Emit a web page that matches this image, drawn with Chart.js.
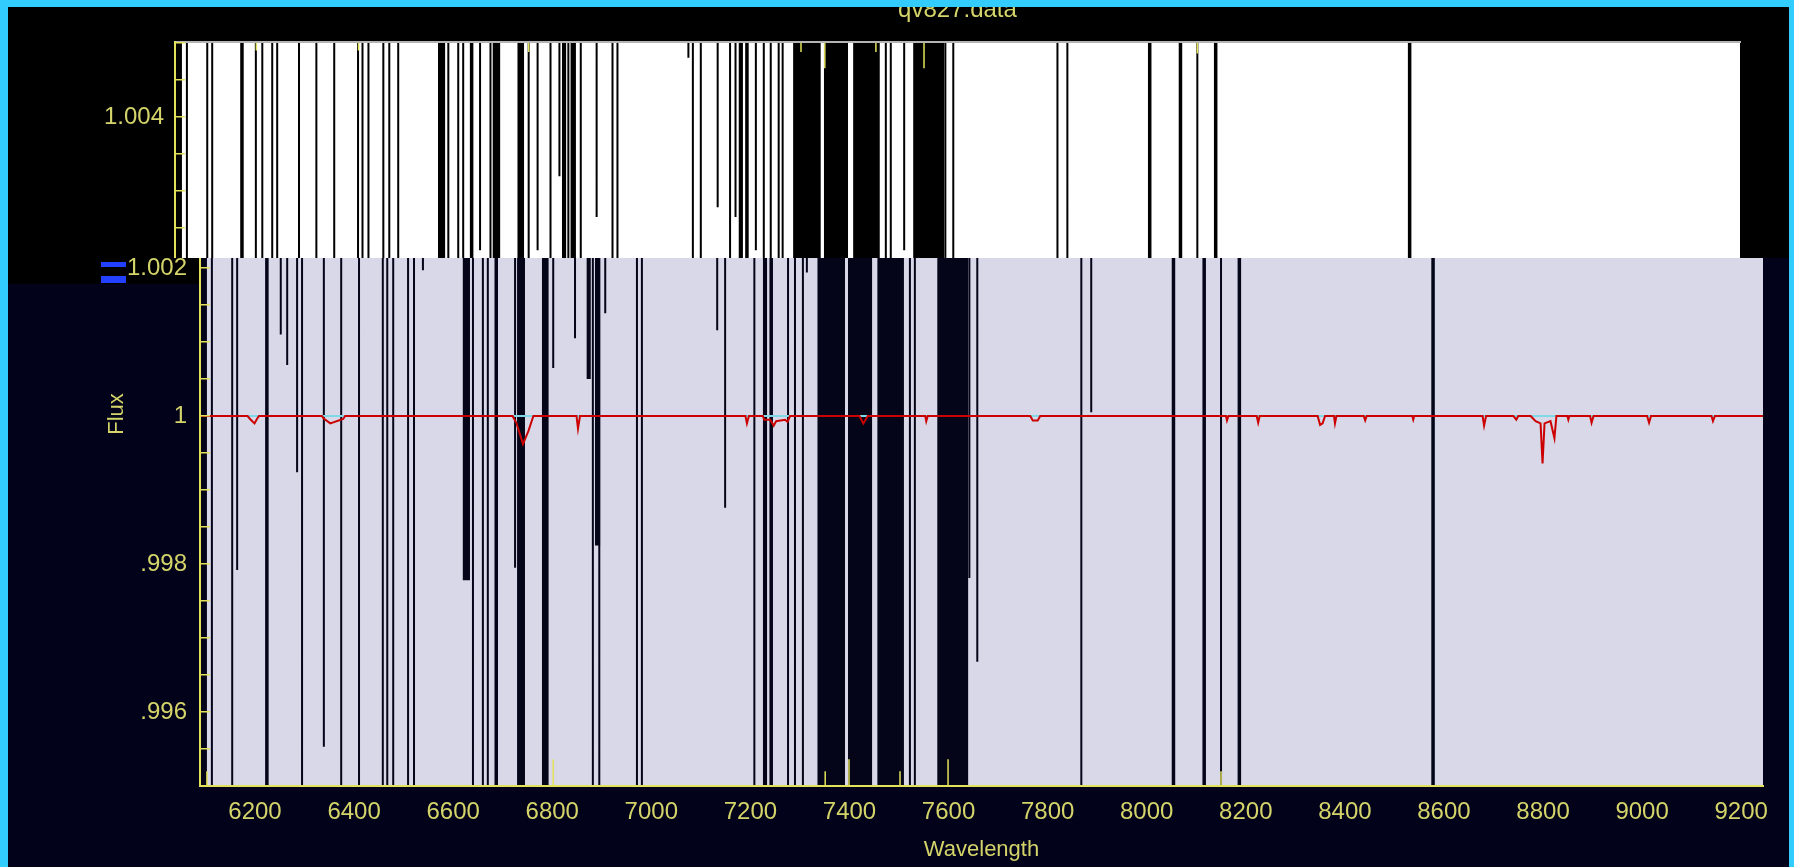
<!DOCTYPE html>
<html>
<head>
<meta charset="utf-8">
<script src="https://cdn.jsdelivr.net/npm/chart.js@4.4.0/dist/chart.umd.min.js"></script>
<style>
html, body { margin: 0; padding: 0; width: 1794px; height: 867px; overflow: hidden; background: #33ccff; }
#frame { position: absolute; left: 8px; top: 7px; width: 1781px; height: 860px; background: #02021a; overflow: hidden; }
#labelPatch { position: absolute; left: 0; top: 251px; width: 191px; height: 26px; background: #000; }
#lowerWrap { position: absolute; left: 0; top: 0; }
#upperBg { position: absolute; left: 0; top: 0; width: 1781px; height: 251px; background: #000; }
#upperWrap { position: absolute; left: 0; top: -12px; }
.glitch { position: absolute; left: 93px; width: 25px; height: 5px; background: #2440ff; }
</style>
</head>
<body>
<div id="frame">
  <div id="labelPatch"></div>
  <div id="lowerWrap"><canvas id="lowerChart" width="1781" height="860"></canvas></div>
  <div id="upperBg"></div>
  <div id="upperWrap"><canvas id="upperChart" width="1781" height="263"></canvas></div>
  <div class="glitch" style="top:255px"></div>
  <div class="glitch" style="top:269px;height:7px"></div>
</div>
<script>
const FULL = 0.99   // segment runs past the bottom of the plot
const TOP = 1.01    // segment starts above the plot

const waveMin = 6089
const waveMax = 9244

// single lines: [wavelength, lowest flux reached]
const thinLines = [
  [6113, FULL], [6154, FULL], [6164, 0.99792], [6252, 1.0011], [6265, 1.00069],
  [6285, 0.99924], [6295, FULL], [6339, 0.99553], [6374, FULL], [6410, FULL],
  [6458, FULL], [6467, FULL], [6479, FULL], [6509, FULL], [6521, FULL],
  [6539, 1.00197], [6640, FULL], [6660, FULL], [6670, FULL], [6704, 1.0022],
  [6725, 0.99795], [6802, 1.00065], [6820, 1.0022], [6846, 1.00105], [6864, 1.0032],
  [6882, FULL], [6895, FULL], [6907, 1.00139], [6939, 1.00265], [6971, FULL],
  [6981, FULL], [7124, 1.0048], [7133, 1.00116], [7149, 0.99876], [7183, 1.00278],
  [7208, FULL], [7219, 1.00265], [7260, 1.0022], [7276, FULL], [7290, FULL],
  [7306, FULL], [7314, 1.00194], [7522, FULL], [7532, FULL], [7559, 1.0022],
  [7642, 0.99781], [7658, 0.99668], [7868, FULL], [7888, 1.00005], [8150, FULL]
]
const thickLines = [
  [6224, FULL], [6687, FULL], [7242, FULL], [8054, FULL], [8116, FULL], [8187, FULL], [8578, FULL]
]
// dense bands: [from, to, lowest flux]
const bands = [
  [6085, 6103, FULL], [6619, 6634, 0.99778], [6729, 6745, FULL], [6779, 6793, FULL],
  [6869, 6878, 1.0005], [6886, 6897, 0.99825], [7225, 7234, FULL], [7335, 7391, FULL],
  [7397, 7446, FULL], [7456, 7510, FULL], [7577, 7640, FULL]
]

// red spectrum
const fluxWave = [
  6089, 6185, 6190, 6199, 6204, 6208, 6335, 6340, 6352, 6378, 6382,
  6720, 6728, 6741, 6752, 6762, 6849, 6852, 6856, 7190, 7193, 7197,
  7225, 7228, 7240, 7247, 7252, 7270, 7275, 7280, 7420, 7428, 7437,
  7553, 7555, 7558, 7765, 7770, 7780, 7785, 8160, 8162, 8165, 8222, 8225, 8228,
  8345, 8350, 8355, 8360, 8378, 8380, 8383, 8438, 8441, 8444, 8536, 8538, 8540,
  8678, 8681, 8685, 8740, 8746, 8750, 8775, 8785, 8795, 8799, 8803, 8815, 8823, 8827,
  8849, 8851, 8853, 8895, 8898, 8902, 9010, 9014, 9018, 9140, 9143, 9147, 9244
]
const fluxValue = [
  1, 1, 0.99996, 0.9999, 0.99996, 1, 1, 0.99996, 0.9999, 0.99996, 1,
  1, 0.9999, 0.99962, 0.9998, 1, 1, 0.99983, 1, 1, 0.9999, 1,
  1, 0.99995, 0.99995, 0.99987, 0.99993, 0.99995, 0.99992, 1, 1, 0.9999, 1,
  1, 0.99993, 1, 1, 0.99994, 0.99994, 1, 1, 0.99994, 1, 1, 0.99991, 1,
  1, 0.99988, 0.9999, 1, 1, 0.9999, 1, 1, 0.99994, 1, 1, 0.99995, 1,
  1, 0.99987, 1, 1, 0.99995, 1, 1, 0.99993, 0.9999, 0.99936, 0.9999, 0.99993, 0.9997, 1,
  1, 0.99995, 1, 1, 0.99991, 1, 1, 0.99991, 1, 1, 0.99993, 1, 1
]
const contWave = [6089, 9244]
const contValue = [1, 1]

// yellow marker ticks: [wavelength, end flux]
const upperMarks = [
  [6253, 1.0049], [6459, 1.0049], [6802, 1.00488], [7351, 1.00488],
  [7399, 1.00466], [7502, 1.00488], [7599, 1.00466], [8150, 1.00486]
]
const lowerMarks = [
  [6103, 0.9952], [6802, 0.99536], [7351, 0.9952], [7399, 0.99536],
  [7502, 0.9952], [7599, 0.99536], [8150, 0.9952]
]

const textYellow = '#d4d46a'
const axisYellow = '#e2e25a'
const font = { family: 'Liberation Sans', size: 22, weight: 'normal' }
const tickFont = { family: 'Liberation Sans', size: 24, weight: 'normal' }

const areaFill = {
  id: 'areaFill',
  beforeDraw(chart, args, opts) {
    const a = chart.chartArea
    const ctx = chart.ctx
    ctx.save()
    ctx.fillStyle = opts.color
    ctx.fillRect(a.left, a.top, a.right - a.left, a.bottom - a.top)
    ctx.restore()
  }
}

function segments(list, from) {
  const pts = []
  list.forEach(([w, end]) => {
    pts.push({ x: w, y: from }, { x: w, y: end }, { x: w, y: null })
  })
  return pts
}

function lineSet(data, color, width) {
  return { data: data, borderColor: color, borderWidth: width, pointRadius: 0, fill: false, tension: 0, clip: 0 }
}

function buildDatasets(ink, marks, markFrom, withSpectrum) {
  const sets = []
  if (withSpectrum) {
    sets.push(lineSet(fluxWave.map((w, i) => ({ x: w, y: fluxValue[i] })), '#cc0000', 2))
    sets.push(lineSet(contWave.map((w, i) => ({ x: w, y: contValue[i] })), '#7fd8e6', 2))
  }
  sets.push(lineSet(segments(marks, markFrom), axisYellow, 1.5))
  sets.push(lineSet(segments(thickLines, TOP), ink, 3.5))
  sets.push(lineSet(segments(thinLines, TOP), ink, 2))
  bands.forEach(([a, b, lo]) => {
    sets.push({
      data: [{ x: a, y: TOP }, { x: b, y: TOP }],
      borderWidth: 0, pointRadius: 0, backgroundColor: ink,
      fill: { value: lo }, clip: 0
    })
  })
  return sets
}

function fmtFlux(v) {
  const k = Math.round(v * 1000)
  if (Math.abs(v * 1000 - k) > 1e-6 || k % 2 !== 0) return ''
  const s = (k / 1000).toFixed(3)
  return s === '1.000' ? '1' : s.replace(/^0/, '')
}

function yAxis(min, max, width, pad) {
  return {
    type: 'linear', min: min, max: max,
    afterFit: (s) => { s.width = width; s.paddingTop = 0; s.paddingBottom = 0 },
    border: { display: true, color: axisYellow, width: 2, z: 1 },
    grid: { drawOnChartArea: false, drawTicks: true, tickLength: -10, color: axisYellow, lineWidth: 1.5, z: 1 },
    ticks: { stepSize: 0.0005, includeBounds: false, autoSkip: false, padding: pad, color: textYellow, font: tickFont, callback: fmtFlux, z: 1 }
  }
}

// lower, lavender panel
const lowerY = yAxis(0.995, 1.005054, 192, 23)
lowerY.title = { display: true, text: 'Flux', color: textYellow, font: font, padding: { top: 96, bottom: 0 } }

new Chart(document.getElementById('lowerChart'), {
  type: 'line',
  data: { datasets: buildDatasets('#05051a', lowerMarks, FULL, true) },
  plugins: [areaFill],
  options: {
    responsive: false, animation: false, events: [],
    layout: { padding: { top: 35, right: 26, left: 0, bottom: 0 }, autoPadding: false },
    plugins: { legend: { display: false }, tooltip: { enabled: false }, areaFill: { color: '#d8d8e8' } },
    scales: {
      x: {
        type: 'linear', min: waveMin, max: waveMax,
        afterFit: (s) => { s.height = 81; s.paddingLeft = 0; s.paddingRight = 0 },
        border: { display: true, color: axisYellow, width: 2, z: 1 },
        grid: { display: false, drawTicks: false },
        ticks: { stepSize: 200, includeBounds: false, autoSkip: false, maxRotation: 0, padding: 12, color: textYellow, font: tickFont, callback: (v) => String(v) },
        title: { display: true, text: 'Wavelength', color: textYellow, font: font, padding: { top: 0, bottom: 4 } }
      },
      y: lowerY
    }
  }
})

// upper, white panel laid over the top
new Chart(document.getElementById('upperChart'), {
  type: 'line',
  data: { datasets: buildDatasets('#000000', upperMarks, TOP, false) },
  plugins: [areaFill],
  options: {
    responsive: false, animation: false, events: [],
    layout: { padding: { top: 0, right: 49, left: 0, bottom: 0 }, autoPadding: false },
    plugins: {
      legend: { display: false }, tooltip: { enabled: false }, areaFill: { color: '#ffffff' },
      title: { display: true, fullSize: false, text: 'qv827.data', color: textYellow, font: tickFont, padding: { top: 1, bottom: 17.2 } }
    },
    scales: {
      x: {
        type: 'linear', position: 'top', min: waveMin, max: waveMax,
        afterFit: (s) => { s.height = 0; s.paddingLeft = 0; s.paddingRight = 0 },
        border: { display: true, color: '#b4b4b4', width: 2, z: 1 },
        grid: { display: false, drawTicks: false },
        ticks: { display: false }
      },
      y: yAxis(1.002095, 1.005014, 167, 21)
    }
  }
})
</script>
</body>
</html>
